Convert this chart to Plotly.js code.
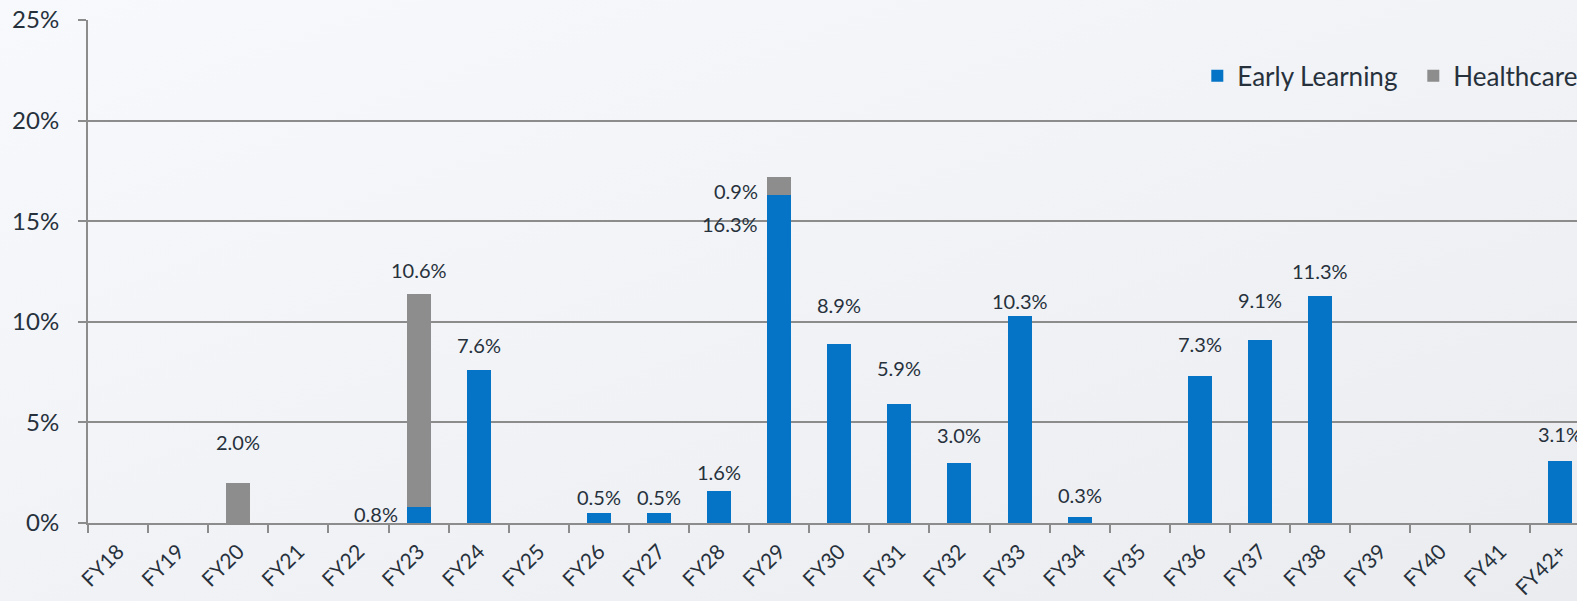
<!DOCTYPE html>
<html>
<head>
<meta charset="utf-8">
<script src="https://cdn.plot.ly/plotly-3.0.1.min.js"></script>
<style>
  html, body { margin: 0; padding: 0; width: 1577px; height: 601px; overflow: hidden;
    background: linear-gradient(160deg, #f7f9fc 0%, #f0f2f6 55%, #eaecf0 100%); }
  #chart { width: 1577px; height: 601px; }
</style>
</head>
<body>
<div id="chart"></div>
<script>
const categories = ['FY18','FY19','FY20','FY21','FY22','FY23','FY24','FY25','FY26','FY27','FY28','FY29','FY30','FY31','FY32','FY33','FY34','FY35','FY36','FY37','FY38','FY39','FY40','FY41','FY42+'];
const earlyLearning = [0,0,0,0,0,0.8,7.6,0,0.5,0.5,1.6,16.3,8.9,5.9,3.0,10.3,0.3,0,7.3,9.1,11.3,0,0,0,3.1];
const healthcare    = [0,0,2.0,0,0,10.6,0,0,0,0,0,0.9,0,0,0,0,0,0,0,0,0,0,0,0,0];
const yTickValues = [0,5,10,15,20,25];

// label layout (pixel offsets, style only)
const labelShiftAbove = {FY20:41, FY23:24, FY24:25, FY26:16, FY27:16, FY28:19, FY30:39, FY31:36, FY32:28, FY33:15, FY34:22, FY36:32, FY37:40, FY38:25, 'FY42+':27};
const sideLabels = {FY23: {early: -7}, FY29: {early: -29, health: -14}};

const BLUE = '#0574c6', GRAY = '#8c8d8c', TEXT = '#27313c', GRID = '#8c8c8c';
const FONT = 'Lato, "Open Sans", sans-serif';

const annotations = [];
categories.forEach((cat, i) => {
  const e = earlyLearning[i], h = healthcare[i];
  const total = e + h;
  [['early', e, e], ['health', h, total]].forEach(([key, v, top]) => {
    if (!v) return;
    const side = sideLabels[cat] && sideLabels[cat][key] !== undefined;
    annotations.push({
      x: cat, y: side ? top : total, xref: 'x', yref: 'y',
      text: v.toFixed(1) + '%', showarrow: false,
      xanchor: side ? 'right' : 'center', yanchor: 'middle',
      xshift: side ? -19 : 0,
      yshift: side ? sideLabels[cat][key] : labelShiftAbove[cat],
      font: {family: FONT, size: 20, color: TEXT}
    });
  });
});

const data = [
  {type: 'bar', name: 'Early Learning', x: categories, y: earlyLearning,
   marker: {color: BLUE}, width: 0.4, hoverinfo: 'x+y'},
  {type: 'bar', name: 'Healthcare', x: categories, y: healthcare,
   marker: {color: GRAY}, width: 0.4, hoverinfo: 'x+y'}
];

const layout = {
  width: 1577, height: 601,
  margin: {l: 88, r: 0, t: 20, b: 78, pad: 0, autoexpand: false},
  paper_bgcolor: 'rgba(0,0,0,0)', plot_bgcolor: 'rgba(0,0,0,0)',
  barmode: 'stack',
  font: {family: FONT, color: TEXT},
  showlegend: true,
  legend: {orientation: 'h', x: 0.745, xanchor: 'left', y: 0.889, yanchor: 'middle',
           entrywidth: 171, entrywidthmode: 'pixels',
           font: {family: FONT, size: 26, color: TEXT}, bgcolor: 'rgba(0,0,0,0)',
           traceorder: 'normal', itemclick: false},
  xaxis: {type: 'category', range: [-0.5, 24.275], tickangle: -45,
          tickson: 'boundaries', ticks: 'outside', ticklen: 8, tickwidth: 2, tickcolor: GRID,
          showline: true, linecolor: GRID, linewidth: 2, showgrid: false, zeroline: false,
          tickfont: {family: FONT, size: 21, color: TEXT}, ticklabelstandoff: 6, fixedrange: true},
  yaxis: {range: [0, 25], tickvals: yTickValues, ticktext: yTickValues.map(v => v + '%'),
          ticks: 'outside', ticklen: 8, tickwidth: 2, tickcolor: GRID,
          showgrid: true, gridcolor: GRID, gridwidth: 2,
          showline: true, linecolor: GRID, linewidth: 2, zeroline: false,
          tickfont: {family: FONT, size: 24, color: TEXT}, ticklabelstandoff: 14, fixedrange: true},
  annotations: annotations
};

Plotly.newPlot('chart', data, layout, {displayModeBar: false, staticPlot: true});
</script>
</body>
</html>
